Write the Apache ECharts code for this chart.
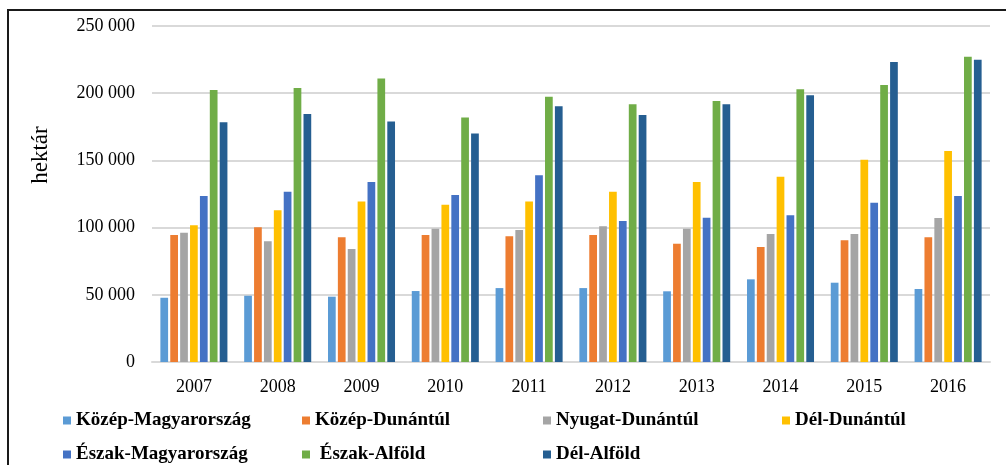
<!DOCTYPE html>
<html>
<head>
<meta charset="utf-8">
<script src="https://cdn.jsdelivr.net/npm/echarts@6/dist/echarts.min.js"></script>
<style>
  html, body { margin: 0; padding: 0; background: #fff; }
  #chart { width: 1006px; height: 465px; }
</style>
</head>
<body>
<div id="chart"></div>
<script>
const years = ['2007', '2008', '2009', '2010', '2011', '2012', '2013', '2014', '2015', '2016'];

const kozepMagyarorszag = [47800, 49300, 48600, 52800, 55000, 55000, 52600, 61500, 59000, 54300];
const kozepDunantul = [94500, 100200, 92800, 94500, 93500, 94500, 88000, 85600, 90500, 92800];
const nyugatDunantul = [96200, 89800, 84000, 99200, 98200, 101000, 99200, 95200, 95200, 107100];
const delDunantul = [101700, 113000, 119500, 117000, 119500, 126700, 133900, 137900, 150500, 157000];
const eszakMagyarorszag = [123500, 126700, 133900, 124200, 138900, 104900, 107400, 109100, 118500, 123500];
const eszakAlfold = [202400, 203900, 211000, 182000, 197400, 191700, 194200, 202900, 206100, 227200];
const delAlfold = [178300, 184500, 179000, 170000, 190200, 183800, 191700, 198400, 223200, 224900];

const yTicks = [0, 50000, 100000, 150000, 200000, 250000];

const seriesDefs = [
  { name: 'Közép-Magyarország', data: kozepMagyarorszag, color: '#5B9BD5' },
  { name: 'Közép-Dunántúl', data: kozepDunantul, color: '#ED7D31' },
  { name: 'Nyugat-Dunántúl', data: nyugatDunantul, color: '#A5A5A5' },
  { name: 'Dél-Dunántúl', data: delDunantul, color: '#FFC000' },
  { name: 'Észak-Magyarország', data: eszakMagyarorszag, color: '#4472C4' },
  { name: 'Észak-Alföld', data: eszakAlfold, color: '#70AD47' },
  { name: 'Dél-Alföld', data: delAlfold, color: '#255E91' }
];

const serif = '"Liberation Serif", "DejaVu Serif", serif';

function fmt(v) {
  // 250000 -> "250 000"
  return String(v).replace(/\B(?=(\d{3})+(?!\d))/g, ' ');
}

function legendCol(left, names) {
  return {
    orient: 'vertical',
    left: left,
    top: 411,
    height: 100,
    padding: 0,
    itemWidth: 8,
    itemHeight: 8,
    itemGap: 15,
    icon: 'rect',
    data: names,
    textStyle: { fontFamily: serif, fontSize: 19, fontWeight: 'bold', color: '#000' },
    formatter: function (name) { return name === 'Észak-Alföld' ? ' ' + name : name; }
  };
}

var chartDom = document.getElementById('chart');
var myChart = echarts.init(chartDom);
var option;

option = {
  animation: false,
  backgroundColor: '#fff',
  grid: { left: 152, right: 16, top: 26, bottom: 103 },
  legend: [
    legendCol(63, ['Közép-Magyarország', 'Észak-Magyarország']),
    legendCol(302, ['Közép-Dunántúl', 'Észak-Alföld']),
    legendCol(543, ['Nyugat-Dunántúl', 'Dél-Alföld']),
    legendCol(782, ['Dél-Dunántúl'])
  ],
  xAxis: {
    type: 'category',
    data: years,
    axisLine: { lineStyle: { color: '#D9D9D9', width: 2 } },
    axisTick: { show: false },
    axisLabel: { fontFamily: serif, fontSize: 18, color: '#000', margin: 16 }
  },
  yAxis: {
    type: 'value',
    min: yTicks[0],
    max: yTicks[yTicks.length - 1],
    interval: 50000,
    name: 'hektár',
    nameLocation: 'middle',
    nameRotate: 90,
    nameGap: 100,
    nameTextStyle: { fontFamily: serif, fontSize: 23, color: '#000', padding: [0, 0, 0, 78] },
    axisLine: { show: false },
    axisTick: { show: false },
    splitLine: { lineStyle: { color: '#D9D9D9', width: 2 } },
    axisLabel: { fontFamily: serif, fontSize: 18, color: '#000', margin: 17, formatter: fmt }
  },
  graphic: [
    {
      type: 'rect',
      shape: { x: 8, y: 10, width: 1020, height: 480 },
      style: { fill: 'none', stroke: '#1a1a1a', lineWidth: 2 },
      silent: true
    }
  ],
  series: seriesDefs.map(function (s) {
    return {
      name: s.name,
      type: 'bar',
      data: s.data,
      barGap: '28%',
      barCategoryGap: '20%',
      itemStyle: { color: s.color }
    };
  })
};

option && myChart.setOption(option);
</script>
</body>
</html>
